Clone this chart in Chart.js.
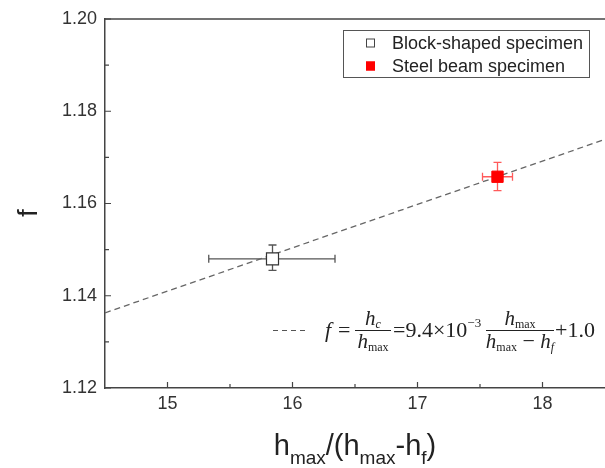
<!DOCTYPE html>
<html>
<head>
<meta charset="utf-8">
<script src="https://cdn.jsdelivr.net/npm/chart.js@4.4.1/dist/chart.umd.min.js"></script>
<style>
  html, body { margin: 0; padding: 0; background: #fff; }
  #wrap { width: 605px; height: 468px; }
</style>
</head>
<body>
<div id="wrap"><canvas id="fChart" width="605" height="468"></canvas></div>
<script>
// values
var seriesNames = ['Block-shaped specimen', 'Steel beam specimen'];
var ratioValues = [15.84, 17.64];
var fValues = [1.148, 1.1658];
var ratioErrLow = [15.33, 17.52];
var ratioErrHigh = [16.34, 17.76];
var fErrLow = [1.1455, 1.1628];
var fErrHigh = [1.151, 1.1689];

// fitted line end points
var fitRatio = [14.5, 18.5];
var fitF = [1.1363, 1.1739];

var xMajorTicks = [15, 16, 17, 18];
var xMinorTicks = [15.5, 16.5, 17.5];
var yMajorTicks = [1.12, 1.14, 1.16, 1.18, 1.20];
var yMinorTicks = [1.13, 1.15, 1.17, 1.19];

var SANS = '"Liberation Sans", Arial, sans-serif';
var SERIF = '"Liberation Serif", "Times New Roman", serif';
var markerColors = ['#ffffff', '#ff0000'];
var markerBorders = ['#333333', '#ff0000'];
var errColors = ['#555555', '#ff5a5a'];

function drawParts(ctx, parts, x, y, measureOnly) {
    var cx = x;
    parts.forEach(function(p) {
        ctx.font = p.font;
        if (!measureOnly) ctx.fillText(p.t, cx, y + (p.dy || 0));
        cx += ctx.measureText(p.t).width;
    });
    return cx - x;
}

function drawFraction(ctx, num, den, x, w, barY) {
    var wn = drawParts(ctx, num, 0, 0, true);
    var wd = drawParts(ctx, den, 0, 0, true);
    drawParts(ctx, num, x + (w - wn) / 2, barY - 5);
    drawParts(ctx, den, x + (w - wd) / 2, barY + 18);
    ctx.beginPath();
    ctx.lineWidth = 1;
    ctx.moveTo(x, barY + 0.5);
    ctx.lineTo(x + w, barY + 0.5);
    ctx.stroke();
}

var decorPlugin = {
    id: 'decor',
    beforeDatasetsDraw: function(chart) {
        var ctx = chart.ctx;
        var xs = chart.scales.x, ys = chart.scales.y;
        var area = chart.chartArea;
        ctx.save();
        // top frame line
        ctx.strokeStyle = '#444';
        ctx.lineWidth = 1.5;
        ctx.beginPath();
        ctx.moveTo(area.left, area.top);
        ctx.lineTo(area.right, area.top);
        ctx.stroke();
        // inward ticks
        ctx.lineWidth = 1.2;
        ctx.beginPath();
        xMajorTicks.forEach(function(v) { var p = xs.getPixelForValue(v); ctx.moveTo(p, area.bottom); ctx.lineTo(p, area.bottom - 6); });
        xMinorTicks.forEach(function(v) { var p = xs.getPixelForValue(v); ctx.moveTo(p, area.bottom); ctx.lineTo(p, area.bottom - 4); });
        yMajorTicks.forEach(function(v) { var p = ys.getPixelForValue(v); ctx.moveTo(area.left, p); ctx.lineTo(area.left + 6, p); });
        yMinorTicks.forEach(function(v) { var p = ys.getPixelForValue(v); ctx.moveTo(area.left, p); ctx.lineTo(area.left + 4, p); });
        ctx.stroke();
        // error bars
        for (var i = 0; i < ratioValues.length; i++) {
            var px = xs.getPixelForValue(ratioValues[i]);
            var py = ys.getPixelForValue(fValues[i]);
            var x1 = xs.getPixelForValue(ratioErrLow[i]), x2 = xs.getPixelForValue(ratioErrHigh[i]);
            var y1 = ys.getPixelForValue(fErrLow[i]), y2 = ys.getPixelForValue(fErrHigh[i]);
            ctx.strokeStyle = errColors[i];
            ctx.lineWidth = 1.3;
            ctx.beginPath();
            ctx.moveTo(x1, py); ctx.lineTo(x2, py);
            ctx.moveTo(x1, py - 4); ctx.lineTo(x1, py + 4);
            ctx.moveTo(x2, py - 4); ctx.lineTo(x2, py + 4);
            ctx.moveTo(px, y1); ctx.lineTo(px, y2);
            ctx.moveTo(px - 4, y1); ctx.lineTo(px + 4, y1);
            ctx.moveTo(px - 4, y2); ctx.lineTo(px + 4, y2);
            ctx.stroke();
        }
        ctx.restore();
    },
    afterDraw: function(chart) {
        var ctx = chart.ctx;
        var area = chart.chartArea;
        ctx.save();
        ctx.fillStyle = '#222';
        ctx.strokeStyle = '#222';
        ctx.textBaseline = 'alphabetic';

        // y title
        ctx.save();
        ctx.translate(37, 213);
        ctx.rotate(-Math.PI / 2);
        ctx.font = '28px ' + SANS;
        ctx.textAlign = 'center';
        ctx.fillText('f', 0, 0);
        ctx.restore();

        // x title
        var titleParts = [
            { t: 'h', font: '29px ' + SANS },
            { t: 'max', font: '19px ' + SANS, dy: 9 },
            { t: '/(h', font: '29px ' + SANS },
            { t: 'max', font: '19px ' + SANS, dy: 9 },
            { t: '-h', font: '29px ' + SANS },
            { t: 'f', font: '19px ' + SANS, dy: 9 },
            { t: ')', font: '29px ' + SANS }
        ];
        var tw = drawParts(ctx, titleParts, 0, 0, true);
        drawParts(ctx, titleParts, (area.left + area.right) / 2 - tw / 2, 455);

        // legend
        ctx.strokeStyle = '#555';
        ctx.lineWidth = 1;
        ctx.strokeRect(343.5, 30.5, 246, 47);
        ctx.font = '18px ' + SANS;
        ctx.fillStyle = '#222';
        ctx.textBaseline = 'middle';
        var rows = [43, 66];
        for (var i = 0; i < seriesNames.length; i++) {
            ctx.fillStyle = markerColors[i];
            ctx.fillRect(366, rows[i] - 4.5, 9, 9);
            ctx.strokeStyle = i === 0 ? '#444' : '#ff0000';
            ctx.strokeRect(366.5, rows[i] - 4, 8, 8);
            ctx.fillStyle = '#222';
            ctx.fillText(seriesNames[i], 392, rows[i] + 1);
        }

        // equation
        ctx.textBaseline = 'alphabetic';
        ctx.strokeStyle = '#555';
        ctx.lineWidth = 1.2;
        ctx.setLineDash([5, 4]);
        ctx.beginPath();
        ctx.moveTo(273, 330.5);
        ctx.lineTo(306, 330.5);
        ctx.stroke();
        ctx.setLineDash([]);
        ctx.fillStyle = '#222';
        ctx.strokeStyle = '#222';
        var base = 337, barY = 330;
        var it = 'italic 21px ' + SERIF, sub = '12px ' + SERIF, rg = '22px ' + SERIF;
        drawParts(ctx, [{ t: 'f', font: 'italic 22px ' + SERIF }], 325, base);
        drawParts(ctx, [{ t: '=', font: rg }], 338, base);
        drawFraction(ctx,
            [{ t: 'h', font: it }, { t: 'c', font: 'italic 12px ' + SERIF, dy: 3 }],
            [{ t: 'h', font: it }, { t: 'max', font: sub, dy: 3 }], 355, 36, barY);
        drawParts(ctx, [{ t: '=9.4\u00d710', font: rg }, { t: '\u22123', font: '13px ' + SERIF, dy: -10 }], 393, base);
        drawFraction(ctx,
            [{ t: 'h', font: it }, { t: 'max', font: sub, dy: 3 }],
            [{ t: 'h', font: it }, { t: 'max', font: sub, dy: 3 }, { t: ' \u2212 ', font: rg }, { t: 'h', font: it }, { t: 'f', font: 'italic 12px ' + SERIF, dy: 3 }], 486, 68, barY);
        drawParts(ctx, [{ t: '+1.0', font: rg }], 555, base);
        ctx.restore();
    }
};

var ctx = document.getElementById('fChart').getContext('2d');
var fitPoints = fitRatio.map(function(v, i) { return { x: v, y: fitF[i] }; });

var fChart = new Chart(ctx, {
    type: 'scatter',
    data: {
        datasets: [
            {
                label: seriesNames[0],
                data: [{ x: ratioValues[0], y: fValues[0] }],
                pointStyle: 'rect',
                pointRadius: 8.5,
                backgroundColor: markerColors[0],
                borderColor: markerBorders[0],
                borderWidth: 1.2,
                order: 1
            },
            {
                label: seriesNames[1],
                data: [{ x: ratioValues[1], y: fValues[1] }],
                pointStyle: 'rect',
                pointRadius: 8,
                backgroundColor: markerColors[1],
                borderColor: markerBorders[1],
                borderWidth: 1,
                order: 0
            },
            {
                type: 'line',
                label: 'fit',
                data: fitPoints,
                borderColor: '#666',
                borderWidth: 1.3,
                borderDash: [6, 4],
                pointRadius: 0,
                fill: false,
                order: 2
            }
        ]
    },
    options: {
        responsive: false,
        animation: false,
        events: [],
        layout: { autoPadding: false, padding: { top: 19, right: 0, left: 0, bottom: 0 } },
        plugins: { legend: { display: false }, tooltip: { enabled: false }, title: { display: false } },
        scales: {
            x: {
                type: 'linear',
                min: 14.5,
                max: 18.5,
                afterBuildTicks: function(scale) { scale.ticks = xMajorTicks.map(function(v) { return { value: v }; }); },
                afterFit: function(scale) { scale.height = 80; },
                grid: { display: false, drawTicks: false },
                border: { display: true, color: '#444', width: 1.5 },
                ticks: { color: '#333', padding: 5, font: { size: 18, family: SANS }, maxRotation: 0 }
            },
            y: {
                type: 'linear',
                min: 1.12,
                max: 1.20,
                afterBuildTicks: function(scale) { scale.ticks = yMajorTicks.map(function(v) { return { value: v }; }); },
                afterFit: function(scale) { scale.width = 105; },
                grid: { display: false, drawTicks: false },
                border: { display: true, color: '#444', width: 1.5 },
                ticks: {
                    color: '#333', padding: 8, font: { size: 18, family: SANS },
                    callback: function(v) { return Number(v).toFixed(2); }
                }
            }
        }
    },
    plugins: [decorPlugin]
});
</script>
</body>
</html>
